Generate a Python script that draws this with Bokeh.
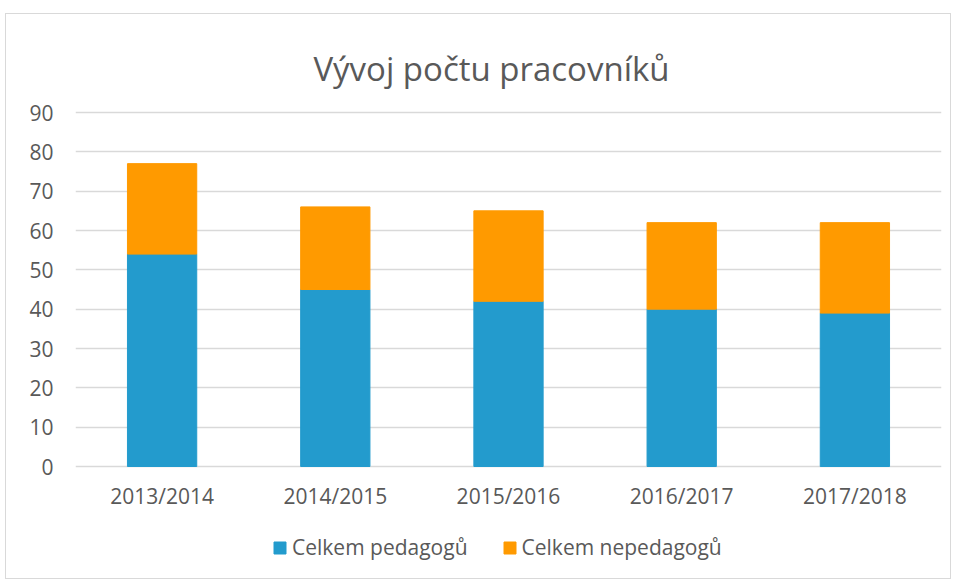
from bokeh.plotting import figure
from bokeh.models import Range1d, Legend, LegendItem, ColumnDataSource
from bokeh.core.properties import value
from bokeh.embed import file_html
from bokeh.resources import INLINE

years = ["2013/2014", "2014/2015", "2015/2016", "2016/2017", "2017/2018"]
pedagogove = [54, 45, 42, 40, 39]
nepedagogove = [23, 21, 23, 22, 23]
series = ["Celkem pedagogů", "Celkem nepedagogů"]
colors = ["#239BCD", "#FF9A00"]
y_ticks = [0, 10, 20, 30, 40, 50, 60, 70, 80, 90]
title_text = "Vývoj počtu pracovníků"

data = {"years": years, "ped": pedagogove, "neped": nepedagogove}

# the frame spans the whole canvas height; title, category labels and legend live inside it
FIG_H = 566
BOTTOM = 3
FRAME_H = FIG_H - BOTTOM
TOP_GAP = 98           # px from frame top to the 90 line
PLOT_H = 354           # px from 90 line to 0 line
PX_PER_UNIT = PLOT_H / 90.0
y_max = 90 + TOP_GAP / PX_PER_UNIT
y_min = -(FRAME_H - TOP_GAP - PLOT_H) / PX_PER_UNIT

p = figure(x_range=years, y_range=Range1d(y_min, y_max), width=946, height=FIG_H,
           title=None, output_backend="svg", toolbar_location=None,
           min_border_left=69, min_border_right=11, min_border_top=0, min_border_bottom=BOTTOM)
p.margin = (13, 0, 0, 5)
p.styles = {"border": "1px solid #d9d9d9"}

renderers = p.vbar_stack(["ped", "neped"], x="years", width=0.4, color=colors, source=data)

# category labels
label_y = -29 / PX_PER_UNIT
lab_src = ColumnDataSource(dict(x=years, y=[label_y] * len(years), t=years))
p.text(x="x", y="y", text="t", source=lab_src, text_align="center", text_baseline="middle",
       text_font=value("Open Sans"), text_font_size="21px", text_color="#595959")

# chart title
title_y = 90 + 44 / PX_PER_UNIT
p.text(x=[years[2]], y=[title_y], text=[title_text], x_offset=-17,
       text_align="center", text_baseline="alphabetic",
       text_font=value("Open Sans"), text_font_size="33px", text_color="#595959")

p.outline_line_color = None
p.background_fill_color = "white"
p.border_fill_color = "white"

p.xaxis.visible = False
p.xgrid.grid_line_color = None
p.ygrid.grid_line_color = "#d9d9d9"
p.ygrid.grid_line_width = 1.3
p.yaxis.ticker = y_ticks

ax = p.yaxis[0]
ax.axis_line_color = None
ax.major_tick_line_color = None
ax.minor_tick_line_color = None
ax.major_label_text_font = "Open Sans"
ax.major_label_text_font_size = "21px"
ax.major_label_text_color = "#595959"
ax.major_label_standoff = 16

legend = Legend(items=[LegendItem(label=series[i], renderers=[renderers[i]]) for i in range(2)],
                orientation="horizontal", location=(197, 16))
legend.label_text_font = "Open Sans"
legend.label_text_font_size = "21px"
legend.label_text_color = "#595959"
legend.glyph_width = 15
legend.glyph_height = 15
legend.spacing = 34
legend.label_standoff = 5
legend.border_line_color = None
legend.background_fill_alpha = 0
legend.margin = 0
legend.padding = 0
p.add_layout(legend, "center")

open("out.html", "w").write(file_html(p, INLINE))
